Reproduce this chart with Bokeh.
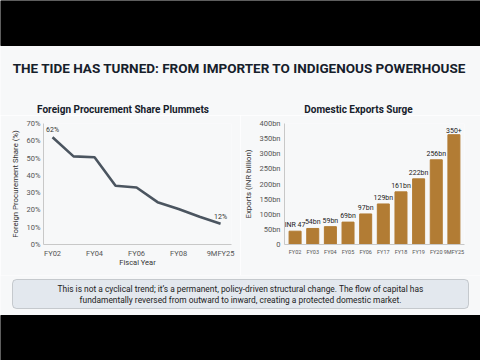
from bokeh.plotting import figure
from bokeh.layouts import column, row
from bokeh.models import Range1d, FixedTicker, BoxAnnotation, FactorRange, ColumnDataSource, LabelSet
from bokeh.core.properties import value
from bokeh.embed import file_html
from bokeh.resources import INLINE

# ---------------- data ----------------
main_title = "THE TIDE HAS TURNED: FROM IMPORTER TO INDIGENOUS POWERHOUSE"
left_title = "Foreign Procurement Share Plummets"
right_title = "Domestic Exports Surge"

share_pos = [0, 1, 2, 3, 4, 5, 6, 7, 8]
share_values = [62, 51, 50.5, 34, 33, 24.5, 20.5, 16, 12]
share_tick_pos = [0, 2, 4, 6, 8]
share_tick_labels = ["FY02", "FY04", "FY06", "FY08", "9MFY25"]
share_yticks = [0, 10, 20, 30, 40, 50, 60, 70]
share_annot_pos = [0, 8]
share_annot_vals = [62, 12]
share_annot_text = ["62%", "12%"]

export_years = ["FY02", "FY03", "FY04", "FY05", "FY06", "FY17", "FY18", "FY19", "FY20", "9MFY25"]
export_values = [44, 53, 59, 74, 101, 134, 174, 217, 280, 363]
export_labels = ["INR 47", "54bn", "59bn", "69bn", "97bn", "129bn", "161bn", "222bn", "256bn", "350+"]
export_yticks = [0, 50, 100, 150, 200, 250, 300, 350, 400]
export_ytick_labels = ["0", "50bn", "100bn", "150bn", "200bn", "250bn", "300bn", "350bn", "400bn"]

caption_lines = [
    "This is not a cyclical trend; it\u2019s a permanent, policy-driven structural change. The flow of capital has",
    "fundamentally reversed from outward to inward, creating a protected domestic market.",
]

BG = "#f7f8f9"
FONT = "Roboto"
W = 480
TOP_H = 115

# ---------------- top (black band + main title + panel titles) ----------------
top = figure(width=W, height=TOP_H, x_range=Range1d(0, W), y_range=Range1d(0, TOP_H),
             output_backend="svg", toolbar_location=None, min_border=0)
top.axis.visible = False
top.grid.visible = False
top.outline_line_color = None
top.background_fill_color = BG
top.border_fill_color = BG
top.quad(left=0, right=W, bottom=TOP_H - 45, top=TOP_H, color="black")
top.text(x=[239], y=[TOP_H - 67], text=[main_title], text_align="center", text_baseline="middle",
         text_font=value(FONT), text_font_style="bold", text_font_size="13.5px", text_color="#16202b")
top.text(x=[122.5, 358], y=[TOP_H - 108.5, TOP_H - 108.5], text=[left_title, right_title],
         text_align="center", text_baseline="middle", text_font=value(FONT),
         text_font_style="bold", text_font_size="10px", text_color="#16202b")


def style_axes(p):
    p.background_fill_color = BG
    p.border_fill_color = BG
    p.outline_line_color = None
    p.grid.visible = False
    for ax in (p.xaxis[0], p.yaxis[0]):
        ax.axis_line_color = "#c8c8c8"
        ax.axis_line_width = 1
        ax.major_tick_line_color = None
        ax.minor_tick_line_color = None
        ax.major_tick_out = 0
        ax.major_tick_in = 0
        ax.major_label_text_font = FONT
        ax.major_label_text_color = "#555555"
        ax.axis_label_text_font = FONT
        ax.axis_label_text_font_style = "normal"
        ax.axis_label_text_color = "#333333"


# ---------------- left: line chart ----------------
p1 = figure(width=240, height=160, x_range=Range1d(-0.43, 8.52), y_range=Range1d(0, 70),
            output_backend="svg", toolbar_location=None,
            min_border_left=43, min_border_right=9, min_border_top=8, min_border_bottom=31)
style_axes(p1)
p1.line(share_pos, share_values, line_color="#4b5560", line_width=2.6)
p1.text(x=share_annot_pos, y=share_annot_vals, text=share_annot_text, text_align="center",
        text_baseline="bottom", y_offset=-3, text_font=value(FONT), text_font_size="7px",
        text_color="#333333")
p1.xaxis.ticker = FixedTicker(ticks=share_tick_pos)
p1.xaxis.major_label_overrides = {k: v for k, v in zip(share_tick_pos, share_tick_labels)}
p1.yaxis.ticker = FixedTicker(ticks=share_yticks)
p1.yaxis.major_label_overrides = {v: f"{v}%" for v in share_yticks}
p1.xaxis.major_label_text_font_size = "7.5px"
p1.yaxis.major_label_text_font_size = "7.5px"
p1.xaxis.axis_label = "Fiscal Year"
p1.yaxis.axis_label = "Foreign Procurement Share (%)"
p1.xaxis.axis_label_text_font_size = "7.5px"
p1.yaxis.axis_label_text_font_size = "7.8px"
p1.xaxis.major_label_standoff = 4
p1.xaxis.axis_label_standoff = -3
p1.yaxis.major_label_standoff = 3
p1.yaxis.axis_label_standoff = 4

# ---------------- right: bar chart ----------------
src = ColumnDataSource(dict(year=export_years, val=export_values, lab=export_labels))
p2 = figure(width=240, height=160,
            x_range=FactorRange(*export_years, range_padding=0.1, range_padding_units="absolute"),
            y_range=Range1d(0, 400), output_backend="svg", toolbar_location=None,
            min_border_left=41, min_border_right=16, min_border_top=8, min_border_bottom=31)
style_axes(p2)
p2.vbar(x="year", top="val", width=0.68, source=src, color="#b27c34")
p2.add_layout(LabelSet(x="year", y="val", text="lab", source=src, text_align="center",
                       text_baseline="bottom", y_offset=2, text_font=value(FONT),
                       text_font_size="7px", text_color="#222222"))
p2.yaxis.ticker = FixedTicker(ticks=export_yticks)
p2.yaxis.major_label_overrides = {k: v for k, v in zip(export_yticks, export_ytick_labels)}
p2.xaxis.major_label_text_font_size = "5.5px"
p2.yaxis.major_label_text_font_size = "7.5px"
p2.yaxis.axis_label = "Exports (INR billion)"
p2.yaxis.axis_label_text_font_size = "7.8px"
p2.xaxis.major_label_standoff = 4
p2.yaxis.major_label_standoff = 4
p2.yaxis.axis_label_standoff = 4

# ---------------- bottom: caption + black band ----------------
bot = figure(width=W, height=85, x_range=Range1d(0, W), y_range=Range1d(0, 85),
             output_backend="svg", toolbar_location=None, min_border=0)
bot.axis.visible = False
bot.grid.visible = False
bot.outline_line_color = None
bot.background_fill_color = BG
bot.border_fill_color = BG
bot.add_layout(BoxAnnotation(left=12, right=468, bottom=52, top=81, fill_color="#e3e8ee",
                             fill_alpha=1, line_color="#6b7178", line_width=1, border_radius=4,
                             level="underlay"))
bot.quad(left=0, right=W, bottom=0, top=45, color="black")
bot.text(x=[240, 240], y=[72, 61], text=caption_lines, text_align="center", text_baseline="middle",
         text_font=value(FONT), text_font_size="8.4px", text_color="#222222")

layout = column(top, row(p1, p2), bot)
open("out.html", "w").write(file_html(layout, INLINE))
